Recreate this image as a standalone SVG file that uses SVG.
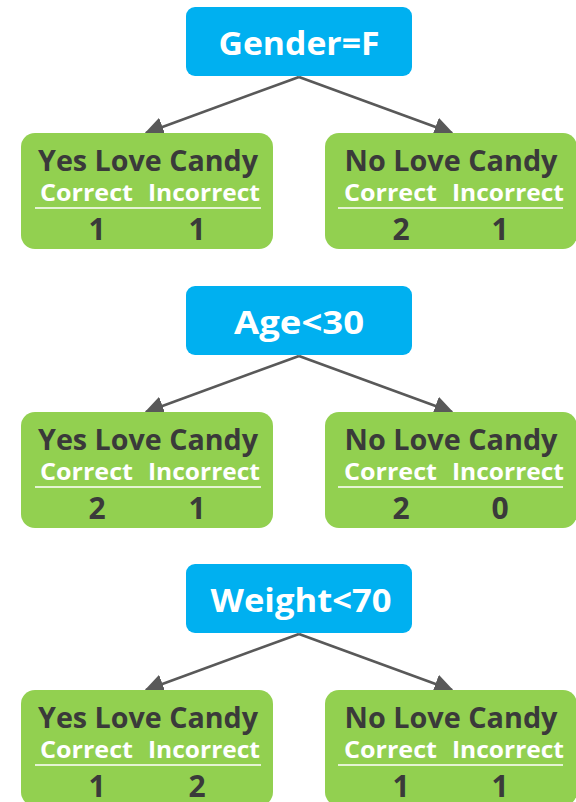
<svg xmlns="http://www.w3.org/2000/svg" width="576" height="802" viewBox="0 0 576 802">
  <style>
    .q { fill: #00b0f0; }
    .leaf { fill: #92d050; }
    .qt { font-family: "Open Sans", "Noto Sans", sans-serif; font-weight: 700; font-size: 33px; fill: #ffffff; text-anchor: middle; }
    .ht { font-family: "Open Sans", "Noto Sans", sans-serif; font-weight: 700; font-size: 28px; fill: #3a3a3a; text-anchor: middle; }
    .ct { font-family: "Open Sans", "Noto Sans", sans-serif; font-weight: 700; font-size: 24px; fill: #ffffff; text-anchor: middle; }
    .nt { font-family: "Open Sans", "Noto Sans", sans-serif; font-weight: 700; font-size: 30px; fill: #3a3a3a; text-anchor: middle; }
    .rule { stroke: #ffffff; stroke-width: 1.5; }
    .edge { stroke: #595959; stroke-width: 2.6; fill: none; marker-end: url(#ah); }
  </style>
  <defs>
    <marker id="ah" viewBox="0 0 10 10" refX="9" refY="5" markerWidth="7.5" markerHeight="7.5" orient="auto" markerUnits="strokeWidth">
      <path d="M0,0 L10,5 L0,10 z" fill="#595959"/>
    </marker>
  </defs>

  <!-- connectors (drawn under the boxes so arrow tips tuck in) -->
  <g id="connectors">
    <line class="edge" x1="299" y1="77" x2="146" y2="133"/>
    <line class="edge" x1="299" y1="77" x2="452" y2="133"/>
    <line class="edge" x1="299" y1="356" x2="146" y2="412"/>
    <line class="edge" x1="299" y1="356" x2="452" y2="412"/>
    <line class="edge" x1="299" y1="634" x2="146" y2="690"/>
    <line class="edge" x1="299" y1="634" x2="452" y2="690"/>
  </g>

  <!-- split 1 -->
  <g id="gender">
    <rect class="q" x="186" y="7" width="226" height="69" rx="9"/>
    <text class="qt" x="299" y="55" textLength="161" lengthAdjust="spacingAndGlyphs">Gender=F</text>
  </g>
  <g id="gender-yes">
    <rect class="leaf" x="21" y="133" width="252" height="116" rx="14"/>
    <text class="ht" x="148" y="171" textLength="220" lengthAdjust="spacingAndGlyphs">Yes Love Candy</text>
    <text class="ct" x="86.5" y="201" textLength="93" lengthAdjust="spacingAndGlyphs">Correct</text>
    <text class="ct" x="204" y="201" textLength="112" lengthAdjust="spacingAndGlyphs">Incorrect</text>
    <line class="rule" x1="35" y1="208" x2="261" y2="208"/>
    <text class="nt" x="97" y="240">1</text>
    <text class="nt" x="197" y="240">1</text>
  </g>
  <g id="gender-no">
    <rect class="leaf" x="325" y="133" width="252" height="116" rx="14"/>
    <text class="ht" x="451" y="171" textLength="213" lengthAdjust="spacingAndGlyphs">No Love Candy</text>
    <text class="ct" x="390.5" y="201" textLength="93" lengthAdjust="spacingAndGlyphs">Correct</text>
    <text class="ct" x="508" y="201" textLength="112" lengthAdjust="spacingAndGlyphs">Incorrect</text>
    <line class="rule" x1="338" y1="208" x2="563" y2="208"/>
    <text class="nt" x="401" y="240">2</text>
    <text class="nt" x="500" y="240">1</text>
  </g>

  <!-- split 2 -->
  <g id="age">
    <rect class="q" x="186" y="286" width="226" height="69" rx="9"/>
    <text class="qt" x="299" y="334" textLength="130" lengthAdjust="spacingAndGlyphs">Age&lt;30</text>
  </g>
  <g id="age-yes">
    <rect class="leaf" x="21" y="412" width="252" height="116" rx="14"/>
    <text class="ht" x="148" y="450" textLength="220" lengthAdjust="spacingAndGlyphs">Yes Love Candy</text>
    <text class="ct" x="86.5" y="480" textLength="93" lengthAdjust="spacingAndGlyphs">Correct</text>
    <text class="ct" x="204" y="480" textLength="112" lengthAdjust="spacingAndGlyphs">Incorrect</text>
    <line class="rule" x1="35" y1="487" x2="261" y2="487"/>
    <text class="nt" x="97" y="519">2</text>
    <text class="nt" x="197" y="519">1</text>
  </g>
  <g id="age-no">
    <rect class="leaf" x="325" y="412" width="252" height="116" rx="14"/>
    <text class="ht" x="451" y="450" textLength="213" lengthAdjust="spacingAndGlyphs">No Love Candy</text>
    <text class="ct" x="390.5" y="480" textLength="93" lengthAdjust="spacingAndGlyphs">Correct</text>
    <text class="ct" x="508" y="480" textLength="112" lengthAdjust="spacingAndGlyphs">Incorrect</text>
    <line class="rule" x1="338" y1="487" x2="563" y2="487"/>
    <text class="nt" x="401" y="519">2</text>
    <text class="nt" x="500" y="519">0</text>
  </g>

  <!-- split 3 -->
  <g id="weight">
    <rect class="q" x="186" y="564" width="226" height="69" rx="9"/>
    <text class="qt" x="301" y="612" textLength="181" lengthAdjust="spacingAndGlyphs">Weight&lt;70</text>
  </g>
  <g id="weight-yes">
    <rect class="leaf" x="21" y="690" width="252" height="116" rx="14"/>
    <text class="ht" x="148" y="728" textLength="220" lengthAdjust="spacingAndGlyphs">Yes Love Candy</text>
    <text class="ct" x="86.5" y="758" textLength="93" lengthAdjust="spacingAndGlyphs">Correct</text>
    <text class="ct" x="204" y="758" textLength="112" lengthAdjust="spacingAndGlyphs">Incorrect</text>
    <line class="rule" x1="35" y1="765" x2="261" y2="765"/>
    <text class="nt" x="97" y="797">1</text>
    <text class="nt" x="197" y="797">2</text>
  </g>
  <g id="weight-no">
    <rect class="leaf" x="325" y="690" width="252" height="116" rx="14"/>
    <text class="ht" x="451" y="728" textLength="213" lengthAdjust="spacingAndGlyphs">No Love Candy</text>
    <text class="ct" x="390.5" y="758" textLength="93" lengthAdjust="spacingAndGlyphs">Correct</text>
    <text class="ct" x="508" y="758" textLength="112" lengthAdjust="spacingAndGlyphs">Incorrect</text>
    <line class="rule" x1="338" y1="765" x2="563" y2="765"/>
    <text class="nt" x="401" y="797">1</text>
    <text class="nt" x="500" y="797">1</text>
  </g>
</svg>
